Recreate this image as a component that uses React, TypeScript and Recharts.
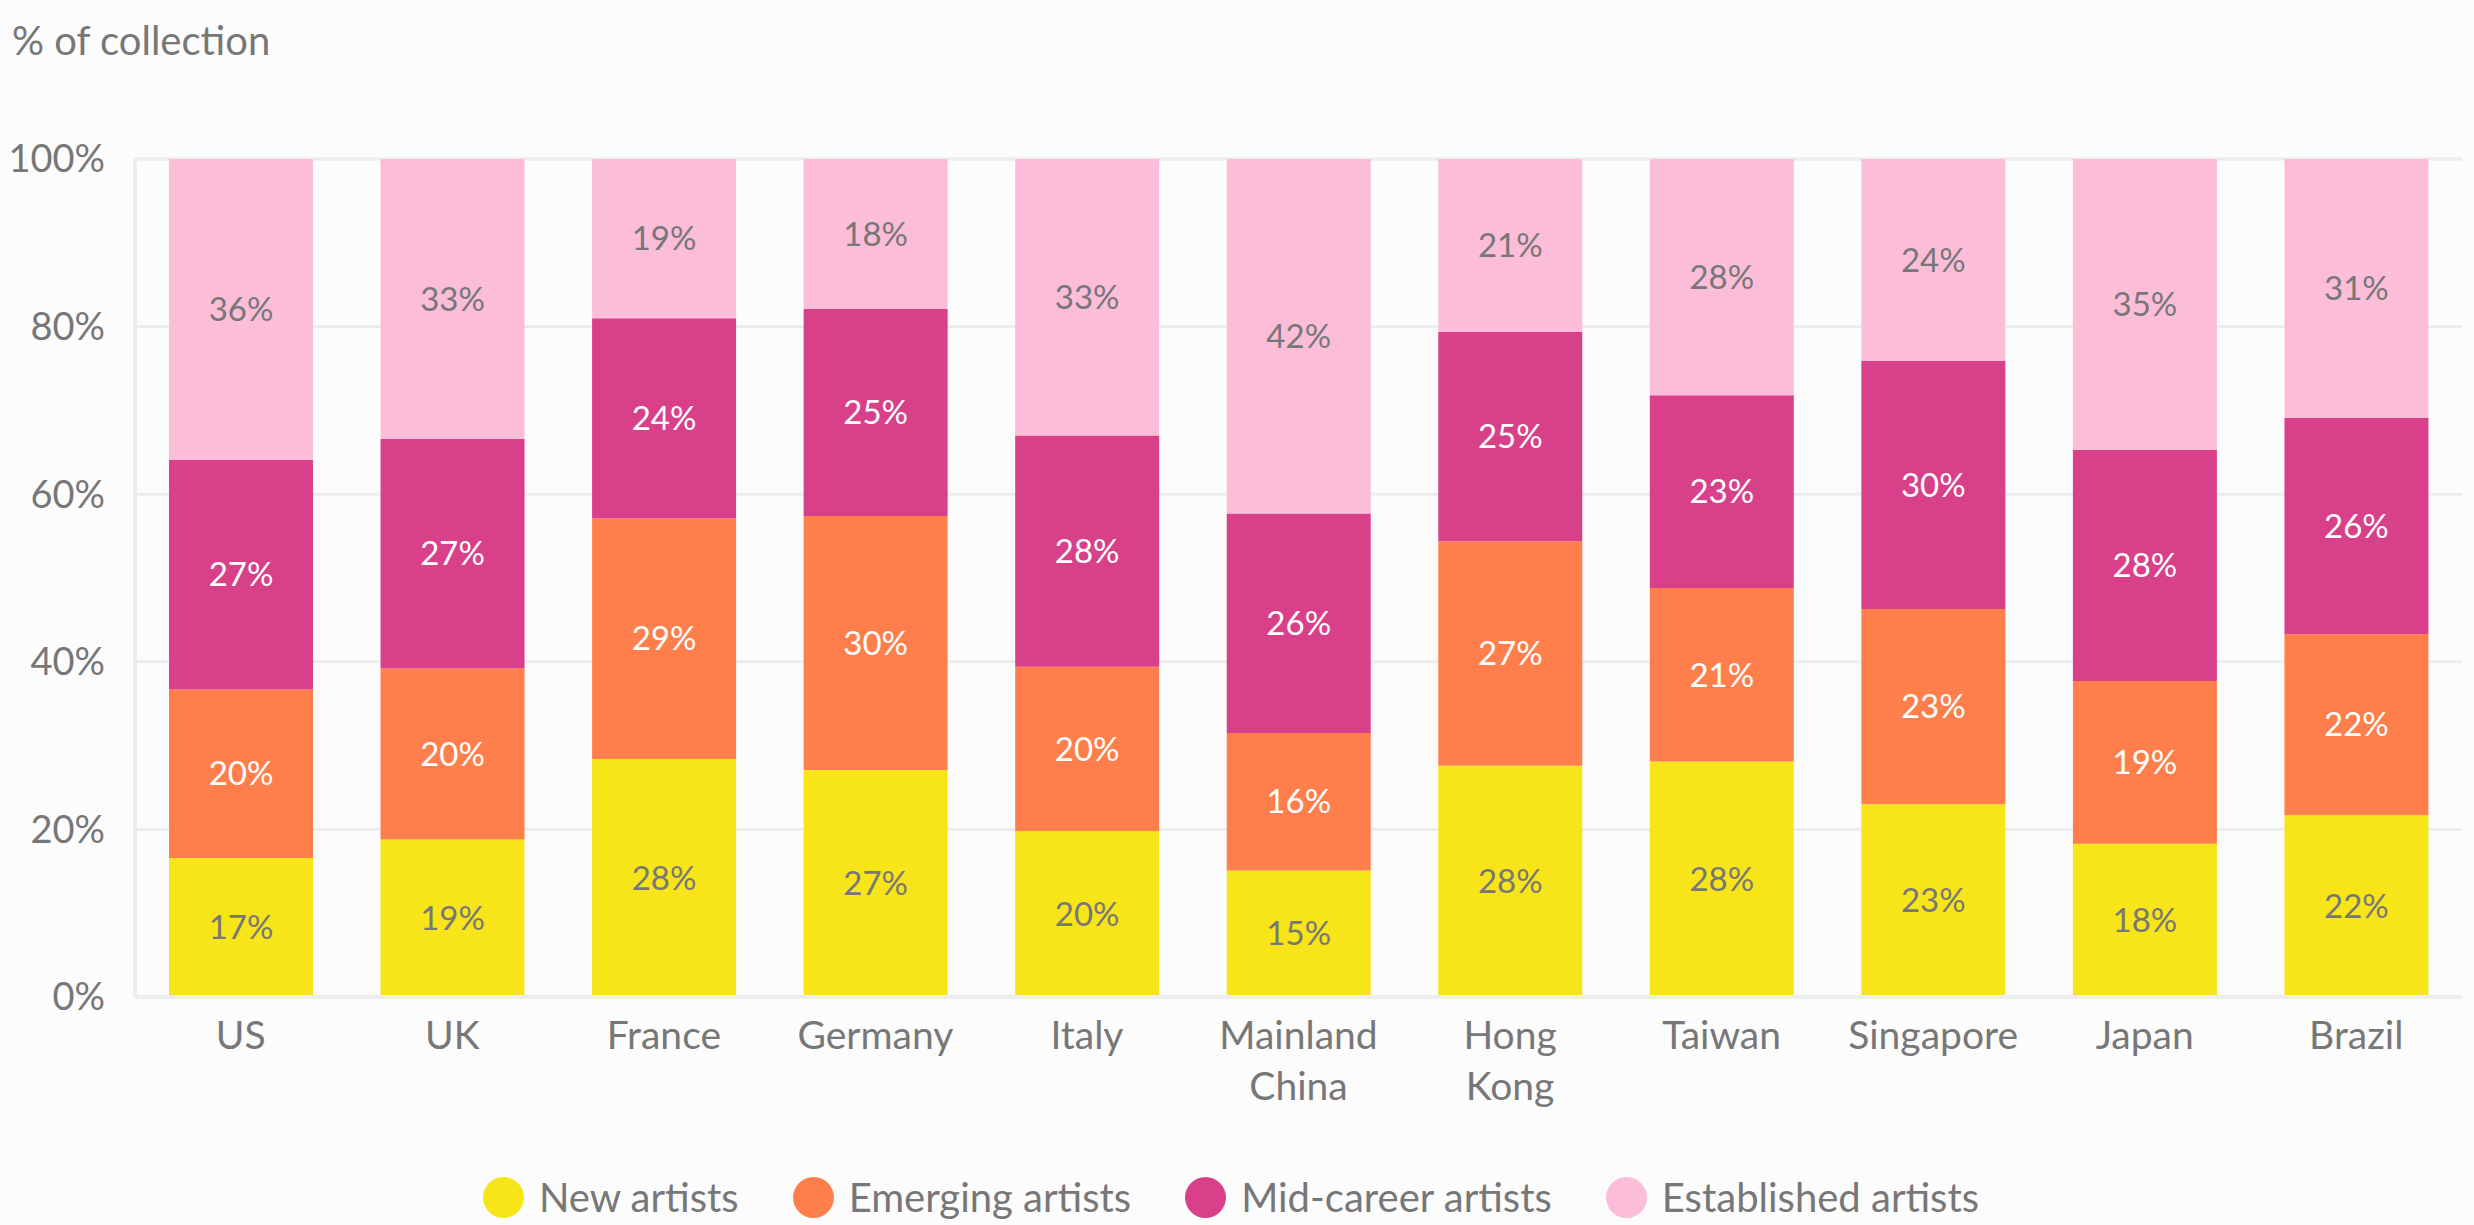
import { BarChart, Bar, XAxis, YAxis, CartesianGrid, Legend, LabelList } from 'recharts';

const FONT = 'Lato, "Open Sans", sans-serif';
const GREY = '#777777';

// Country categories
const countries = ['US', 'UK', 'France', 'Germany', 'Italy', 'Mainland China', 'Hong Kong', 'Taiwan', 'Singapore', 'Japan', 'Brazil'];

// Share of collection (%) per artist stage
const newArtists = [16.6, 18.8, 28.4, 27.1, 19.8, 15.1, 27.6, 28.1, 23.0, 18.3, 21.7];
const emergingArtists = [20.1, 20.4, 28.7, 30.3, 19.6, 16.4, 26.8, 20.7, 23.3, 19.4, 21.6];
const midCareerArtists = [27.4, 27.4, 23.9, 24.7, 27.6, 26.2, 25.0, 23.0, 29.6, 27.6, 25.8];
const establishedArtists = [35.9, 33.4, 19.0, 17.9, 33.0, 42.3, 20.6, 28.2, 24.1, 34.7, 30.9];

const yTicks = [0, 20, 40, 60, 80, 100];

const series = [
  { key: 'newArtists', name: 'New artists', color: '#F7E419', labelColor: GREY },
  { key: 'emergingArtists', name: 'Emerging artists', color: '#FF7F4C', labelColor: '#FFFFFF' },
  { key: 'midCareerArtists', name: 'Mid-career artists', color: '#D8418A', labelColor: '#FFFFFF' },
  { key: 'establishedArtists', name: 'Established artists', color: '#FCBDD9', labelColor: GREY },
];

const data = countries.map((country, i) => ({
  country,
  newArtists: newArtists[i],
  emergingArtists: emergingArtists[i],
  midCareerArtists: midCareerArtists[i],
  establishedArtists: establishedArtists[i],
}));

const splitLabel = (v: string) => {
  if (v === 'Mainland China') return ['Mainland', 'China'];
  if (v === 'Hong Kong') return ['Hong', 'Kong'];
  return [v];
};

const CountryTick = ({ x, y, payload }: any) => (
  <text x={x} y={y} textAnchor="middle" fill={GREY} fontSize={39} fontFamily={FONT}>
    {splitLabel(payload.value).map((line, i) => (
      <tspan key={i} x={x} dy={i === 0 ? 52 : 51}>
        {line}
      </tspan>
    ))}
  </text>
);

const LegendContent = () => (
  <div style={{ display: 'flex', justifyContent: 'center', alignItems: 'center', fontFamily: FONT, fontSize: 40, color: GREY }}>
    {series.map((s) => (
      <div key={s.key} style={{ display: 'flex', alignItems: 'center', margin: '0 27px' }}>
        <span style={{ width: 41, height: 41, borderRadius: 21, background: s.color, display: 'inline-block', marginRight: 15 }} />
        <span>{s.name}</span>
      </div>
    ))}
  </div>
);

export default function App() {
  return (
    <div style={{ position: 'absolute', left: 0, top: 0, width: 2474, height: 1225, background: '#FCFCFC' }}>
      <div style={{ position: 'absolute', left: 12, top: 16, fontFamily: FONT, fontSize: 40, color: GREY }}>
        % of collection
      </div>
      <BarChart
        width={2474}
        height={1225}
        data={data}
        margin={{ top: 159, right: 12, left: 0, bottom: 2 }}
        barSize={144}
      >
        <CartesianGrid vertical={false} stroke="#EDEDED" strokeWidth={3} />
        <XAxis
          dataKey="country"
          interval={0}
          tick={<CountryTick />}
          tickLine={false}
          tickSize={0}
          tickMargin={0}
          height={176}
          axisLine={{ stroke: '#EDEDED', strokeWidth: 4 }}
        />
        <YAxis
          domain={[0, 100]}
          ticks={yTicks}
          tickFormatter={(v: number) => `${v}%`}
          tick={{ fill: GREY, fontSize: 38, fontFamily: FONT }}
          tickLine={false}
          tickSize={0}
          tickMargin={30}
          width={135}
          axisLine={{ stroke: '#EDEDED', strokeWidth: 4 }}
        />
        <Legend verticalAlign="bottom" height={50} content={<LegendContent />} />
        {series.map((s) => (
          <Bar key={s.key} dataKey={s.key} name={s.name} stackId="a" fill={s.color} isAnimationActive={false}>
            <LabelList
              dataKey={s.key}
              position="center"
              formatter={(v: any) => `${Math.round(Number(v))}%`}
              fill={s.labelColor}
              fontSize={33}
              fontFamily={FONT}
            />
          </Bar>
        ))}
      </BarChart>
    </div>
  );
}
